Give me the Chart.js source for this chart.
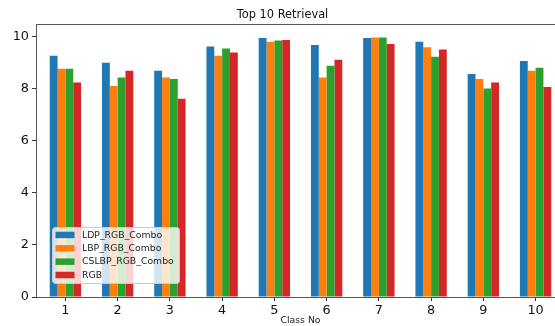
<!DOCTYPE html>
<html lang="en">
<head>
  <meta charset="UTF-8" />
  <title>Top 10 Retrieval</title>
  <script src="https://cdn.jsdelivr.net/npm/chart.js"></script>
  <style>
    html, body {
      margin: 0;
      padding: 0;
      background: #fff;
      overflow: hidden;
      width: 555px;
      height: 326px;
    }
    canvas { display: block; }
  </style>
</head>
<body>
  <canvas id="retrievalChart" width="565" height="326"></canvas>

  <script>
    // data
    const classes = [1, 2, 3, 4, 5, 6, 7, 8, 9, 10];
    const ldpRgbCombo   = [9.27, 9.00, 8.69, 9.62, 9.95, 9.68, 9.95, 9.81, 8.57, 9.07];
    const lbpRgbCombo   = [8.77, 8.11, 8.43, 9.27, 9.81, 8.43, 9.97, 9.59, 8.37, 8.69];
    const cslbpRgbCombo = [8.77, 8.43, 8.37, 9.55, 9.85, 8.88, 9.97, 9.23, 8.01, 8.81];
    const rgbOnly       = [8.24, 8.69, 7.62, 9.39, 9.87, 9.11, 9.72, 9.51, 8.24, 8.07];
    const yTicks = [0, 2, 4, 6, 8, 10];

    const FONT = "'DejaVu Sans', sans-serif";

    // matplotlib style frame (all four spines) drawn over the bars
    const frame = {
      id: 'frame',
      afterDatasetsDraw(chart) {
        const { ctx, chartArea: a } = chart;
        ctx.save();
        ctx.strokeStyle = '#555';
        ctx.lineWidth = 1;
        ctx.strokeRect(Math.round(a.left) + 0.5, Math.round(a.top) + 0.5,
          Math.round(a.right - a.left), Math.round(a.bottom - a.top));
        ctx.restore();
      }
    };

    // legend box in the lower left corner of the axes
    const innerLegend = {
      id: 'innerLegend',
      afterDraw(chart) {
        const { ctx, chartArea: a } = chart;
        const sets = chart.data.datasets;
        const x = a.left + 16, w = 127, h = 56;
        const y = a.bottom - 70;
        ctx.save();
        ctx.beginPath();
        ctx.roundRect(x + 0.5, y + 0.5, w, h, 3);
        ctx.fillStyle = 'rgba(255,255,255,0.8)';
        ctx.fill();
        ctx.strokeStyle = '#ccc';
        ctx.lineWidth = 1;
        ctx.stroke();
        ctx.font = '9.3px ' + FONT;
        ctx.textBaseline = 'middle';
        sets.forEach((ds, i) => {
          const cy = y + 7.7 + i * 13.35;
          ctx.fillStyle = ds.backgroundColor;
          ctx.fillRect(x + 3.5, cy - 3, 19, 6.5);
          ctx.fillStyle = '#222';
          ctx.fillText(ds.label, x + 30, cy + 0.5);
        });
        ctx.restore();
      }
    };

    new Chart(document.getElementById('retrievalChart'), {
      type: 'bar',
      data: {
        labels: classes,
        datasets: [
          { label: 'LDP_RGB_Combo', data: ldpRgbCombo, backgroundColor: '#1f77b4' },
          { label: 'LBP_RGB_Combo', data: lbpRgbCombo, backgroundColor: '#ff7f0e' },
          { label: 'CSLBP_RGB_Combo', data: cslbpRgbCombo, backgroundColor: '#2ca02c' },
          { label: 'RGB', data: rgbOnly, backgroundColor: '#d62728' }
        ]
      },
      options: {
        responsive: false,
        animation: false,
        events: [],
        layout: { padding: { left: 0, right: 0, top: 0, bottom: 0 } },
        datasets: {
          bar: { categoryPercentage: 0.6, barPercentage: 1.0, borderWidth: 0 }
        },
        scales: {
          x: {
            type: 'linear',
            min: 0.437,
            max: 10.563,
            offset: false,
            grid: { offset: false, drawOnChartArea: false, drawTicks: true, tickLength: 4, tickColor: '#333' },
            border: { display: false },
            afterBuildTicks: axis => { axis.ticks = classes.map(v => ({ value: v })); },
            afterFit: axis => { axis.height = 29; },
            ticks: {
              color: '#111',
              padding: 2,
              maxRotation: 0,
              autoSkip: false,
              font: { family: FONT, size: 12.8 }
            },
            title: {
              display: true,
              text: 'Class No',
              color: '#222',
              padding: { top: 0, bottom: 0 },
              font: { family: FONT, size: 9.3 }
            }
          },
          y: {
            min: 0,
            max: 10.5,
            grid: { drawOnChartArea: false, drawTicks: true, tickLength: 4, tickColor: '#333' },
            border: { display: false },
            afterBuildTicks: axis => { axis.ticks = yTicks.map(v => ({ value: v })); },
            afterFit: axis => { axis.width = 36; },
            ticks: {
              color: '#111',
              padding: 3,
              font: { family: FONT, size: 12.8 }
            }
          }
        },
        plugins: {
          legend: { display: false },
          tooltip: { enabled: false },
          title: {
            display: true,
            text: 'Top 10 Retrieval',
            color: '#111',
            padding: { top: 8, bottom: 2 },
            font: { family: FONT, size: 11.4, weight: 'normal' }
          }
        }
      },
      plugins: [frame, innerLegend]
    });
  </script>
</body>
</html>
